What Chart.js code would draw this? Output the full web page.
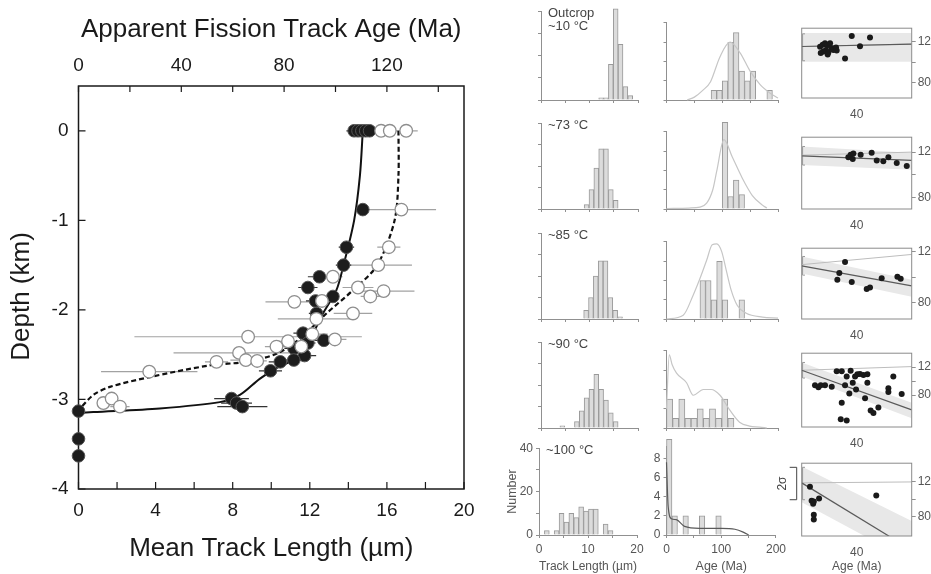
<!DOCTYPE html>
<html>
<head>
<meta charset="utf-8">
<script src="https://cdn.jsdelivr.net/npm/chart.js@4.4.1/dist/chart.umd.min.js"></script>
<style>
html, body { margin: 0; padding: 0; background: #fff; overflow: hidden; width: 931px; height: 574px; }
canvas { position: absolute; }
</style>
</head>
<body>
<script>
// ---- main panel: depth profile ----
var filledLen   = [14.3, 14.5, 14.7, 14.9, 15.1, 14.75, 13.9, 13.75, 12.5, 11.9, 13.2, 12.3, 12.35, 11.65, 12.73, 11.18, 11.73, 11.9, 11.17, 10.47, 9.96, 7.94, 8.2, 8.5, 0, 0, 0];
var filledDepth = [0, 0, 0, 0, 0, -0.88, -1.30, -1.50, -1.63, -1.75, -1.85, -1.90, -2.04, -2.26, -2.34, -2.43, -2.51, -2.37, -2.56, -2.58, -2.68, -2.99, -3.04, -3.08, -3.13, -3.44, -3.63];
var filledErr   = [0.4, 0.3, 0.3, 0.3, 0.3, 0.3, 0.4, 0.4, 0.6, 0.5, 0.3, 0.5, 0.4, 0.5, 0.5, 0.5, 0.6, 0.4, 0.5, 0.6, 0.6, 0.9, 0.8, 1.3, 0, 0, 0];
var openLen   = [15.7, 16.15, 17.0, 16.75, 16.1, 15.55, 13.2, 14.5, 15.14, 15.83, 11.2, 12.63, 14.24, 12.34, 8.8, 13.3, 12.13, 10.87, 10.27, 11.56, 8.33, 7.16, 8.68, 9.27, 3.67, 1.29, 1.72, 2.15];
var openDepth = [0, 0, 0, -0.88, -1.30, -1.50, -1.63, -1.75, -1.85, -1.79, -1.91, -1.90, -2.04, -2.10, -2.30, -2.33, -2.27, -2.35, -2.41, -2.41, -2.48, -2.58, -2.56, -2.57, -2.69, -3.04, -2.99, -3.08];
var openErr   = [0.4, 0.4, 0.6, 1.8, 0.6, 1.75, 0.5, 0.8, 0.5, 1.6, 1.5, 0.6, 1.0, 2.0, 5.9, 0.6, 0.8, 0.5, 0.6, 0.6, 3.4, 0.6, 0.8, 0.5, 2.5, 0.3, 0.3, 0.5];
var fitLenX = [14.75, 14.6, 14.3, 13.75, 13.38, 12.68, 12.43, 11.82, 11.13, 10.27, 9.4, 8.37, 7.33, 4.22, 0.77, 0];
var fitLenY = [0, -0.5, -1.0, -1.5, -1.78, -2.04, -2.15, -2.41, -2.56, -2.65, -2.77, -2.95, -3.03, -3.1, -3.14, -3.15];
var fitAgeX = [16.6, 16.6, 16.4, 15.5, 14.24, 12.86, 11.5, 10.27, 8.7, 6.8, 3.7, 1.63, 0.77, 0];
var fitAgeY = [0, -0.5, -1.0, -1.5, -1.78, -2.04, -2.32, -2.49, -2.58, -2.62, -2.75, -2.86, -2.95, -3.12];
var lengthTicks = [0, 2, 4, 6, 8, 10, 12, 14, 16, 18, 20];
var ageTicks = [0, 20, 40, 60, 80, 100, 120, 140];
var depthTicks = [-4, -3, -2, -1, 0];

// ---- track length histograms (bin centre, number) ----
var lenX10 = [12.4, 13.4, 14.4, 15.4, 16.4, 17.4, 18.4];
var lenN10 = [1, 1, 16, 41, 25, 6, 2];
var lenX73 = [9.4, 10.4, 11.4, 12.4, 13.4, 14.4, 15.4];
var lenN73 = [2, 9, 19, 28, 28, 9, 4];
var lenX85 = [9.3, 10.3, 11.3, 12.3, 13.3, 14.3, 15.3, 16.3];
var lenN85 = [4, 10, 20, 27, 27, 10, 4, 1];
var lenX90 = [4.4, 5.4, 6.4, 7.4, 8.4, 9.4, 10.4, 11.4, 12.4, 13.4, 14.4, 15.4];
var lenN90 = [1, 0, 0, 3, 8, 14, 18, 25, 18, 13, 7, 3];
var lenX100 = [1.6, 2.6, 3.6, 4.6, 5.6, 6.6, 7.6, 8.6, 9.6, 10.6, 11.6, 12.6, 13.6, 14.6];
var lenN100 = [2, 0, 2, 10, 6, 10, 8, 13, 11, 12, 12, 0, 5, 2];

// ---- single grain age histograms and density curves ----
var ageX10 = [85, 95, 105, 115, 125, 135, 145, 155, 165, 175, 185];
var ageN10 = [1, 1, 2, 6, 7, 3, 2, 3, 0, 0, 1];
var pdfX10 = [37, 50, 65, 79, 96, 114, 132, 150, 168, 186, 200];
var pdfY10 = [0, 0.3, 1.0, 1.9, 4.5, 6.0, 4.9, 3.0, 1.6, 0.7, 0.2];
var ageX73 = [105, 115, 125, 135];
var ageN73 = [9, 1.3, 3, 1.5];
var pdfX73 = [0, 40, 60, 72, 83, 90, 103, 118, 136, 154, 172, 180];
var pdfY73 = [0.05, 0.1, 0.2, 0.6, 2, 3.9, 7.2, 5.4, 3.2, 1.4, 0.4, 0.1];
var ageX85 = [65, 75, 85, 95, 105, 115, 125, 135];
var ageN85 = [4, 4, 2, 6, 2, 0, 0, 2];
var pdfX85 = [0, 30, 48, 60, 72, 82, 90, 99, 107, 116, 127, 143, 172, 200];
var pdfY85 = [0, 0.4, 2.5, 4.2, 6.1, 7.7, 7.8, 7.0, 5.1, 3.0, 1.4, 0.6, 0.2, 0.1];
var ageX90 = [5.5, 16.5, 27.5, 38.5, 49.5, 60.5, 71.5, 82.5, 93.5, 104.5, 115.5];
var ageN90 = [3, 1, 3, 1, 1, 2, 1, 2, 1, 3, 1];
var pdfX90 = [0, 5, 10, 18, 36, 48, 66, 80, 96, 113, 131, 149, 167, 180];
var pdfY90 = [2, 7.6, 6.6, 5.7, 4.7, 3.4, 4.0, 4.0, 3.4, 1.9, 0.6, 0.2, 0.1, 0];
var ageX100 = [5, 15, 25, 35, 45, 55, 65, 75, 85, 95];
var ageN100 = [10, 2, 0, 2, 0, 0, 2, 0, 0, 2];
var pdfX100 = [0, 3, 9, 18, 33, 60, 100, 125, 140, 150];
var pdfY100 = [7.6, 3, 1.7, 1.6, 0.9, 0.7, 0.7, 0.6, 0.3, 0];

// ---- radial plots (precision in % of box width, age-equivalent position) ----
var radPrec10 = [16.7, 19.1, 21.2, 23.3, 25.8, 22.1, 19.7, 17.3, 24.2, 27.3, 28.8, 31.8, 31.2, 23.6, 39.4, 45.5, 53, 62.1];
var radAge10  = [114.9, 117, 118.5, 116.4, 118.5, 111.8, 110.3, 108.8, 109.4, 113.4, 111.8, 111.3, 114.3, 107.3, 103.4, 125.5, 115.5, 124];
var radPrec73 = [42.4, 44.5, 46.4, 47, 53.6, 63.6, 68.2, 74.2, 78.8, 86.4, 95.5];
var radAge73  = [115.4, 117.6, 114, 118.7, 117.6, 119.5, 112.7, 111.9, 115.4, 110.5, 107.8];
var radPrec85 = [39.4, 34.2, 32.4, 45.5, 59.1, 62.1, 72.7, 87, 90];
var radAge85  = [112, 103.5, 98.2, 96.5, 90.9, 92.1, 99.4, 100.6, 98.9];
var radPrec90 = [12.1, 15.2, 17.3, 21.2, 27.3, 31.8, 36.4, 40.9, 44.5, 48.5, 50.6, 53, 56.1, 59.7, 59.7, 46.4, 49.4, 39.4, 43.3, 36.4, 57.6, 62.7, 65.2, 69.7, 83.3, 78.8, 78.8, 90.9, 35.5, 40.9];
var radAge90  = [94.1, 91.1, 94.1, 94.1, 92, 114.1, 114.1, 106.7, 114.7, 106.7, 109.7, 110.2, 108.8, 109.7, 97.7, 97.7, 88, 94.1, 82.1, 68.8, 75.5, 57.7, 54.2, 62.2, 106.7, 89.7, 84.4, 81.3, 45.3, 43.5];
var radPrec100 = [7.5, 9, 10.4, 11, 15.8, 11, 11, 67.8];
var radAge100  = [114.5, 98.2, 94.5, 97.1, 100.7, 81.8, 76.4, 104.3];
var edgeX = [0, 100];
var bandHi10 = [128.5, 128.5], bandLo10 = [100.4, 100.4], fit10 = [115.2, 117.6], ref10 = [115.2, 117.6], sig10 = [101.3, 127.6];
var bandHi73 = [124.9, 119.5], bandLo73 = [108.6, 104.5], fit73 = [116.7, 112.7], ref73 = [117.3, 120], sig73 = [108.6, 124.9];
var bandHi85 = [116.4, 98.2], bandLo85 = [103.1, 84.9], fit85 = [109.1, 93.4], ref85 = [110, 118], sig85 = [101.8, 116.4];
var bandHi90 = [126.7, 68.8], bandLo90 = [106.7, 46.7], fit90 = [115.5, 58.7], ref90 = [115.5, 120.8], sig90 = [104.4, 126.7];
var bandHi100 = [138.1, 74.5], bandLo100 = [96.3, 27.6], fit100 = [118.9, 40.8], ref100 = [118.9, 120], sig100 = [99.3, 137];
var radMin = [64.9, 70, 67.4, 34.1, 57.1];
var radMax = [133.1, 133.1, 122.9, 140, 141.8];
var radTicks = [80, 100, 120];
var radLabels = [80, 120];

var tempLabels = [['Outcrop', '~10 °C'], ['~73 °C'], ['~85 °C'], ['~90 °C'], ['~100 °C']];

Chart.defaults.font.family = '"Liberation Sans", Arial, Helvetica, sans-serif';
Chart.defaults.animation = false;
Chart.defaults.responsive = false;
Chart.defaults.plugins.legend.display = false;
Chart.defaults.plugins.tooltip.enabled = false;

function addCanvas(left, top, w, h) {
  var c = document.createElement('canvas');
  c.width = w; c.height = h;
  c.style.left = left + 'px'; c.style.top = top + 'px';
  document.body.appendChild(c);
  return c;
}
function pts(xs, ys) { return xs.map(function (x, i) { return {x: x, y: ys[i]}; }); }
function fixTicks(list) { return function (s) { s.ticks = list.map(function (v) { return {value: v}; }); }; }

// frame with inward ticks, drawn under the points
var frameTicks = {
  id: 'frameTicks',
  beforeDatasetsDraw: function (chart) {
    var ctx = chart.ctx, a = chart.chartArea, s = chart.scales;
    ctx.save();
    ctx.strokeStyle = '#1a1a1a'; ctx.lineWidth = 1.5;
    ctx.strokeRect(a.left, a.top, a.right - a.left, a.bottom - a.top);
    ctx.lineWidth = 1.2;
    ctx.beginPath();
    s.x.ticks.forEach(function (t) { var p = s.x.getPixelForValue(t.value); ctx.moveTo(p, a.bottom); ctx.lineTo(p, a.bottom - 7); });
    s.x2.ticks.forEach(function (t) { var p = s.x2.getPixelForValue(t.value); ctx.moveTo(p, a.top); ctx.lineTo(p, a.top + 6); });
    s.y.ticks.forEach(function (t) { var p = s.y.getPixelForValue(t.value); ctx.moveTo(a.left, p); ctx.lineTo(a.left + 7, p); });
    ctx.stroke();
    // y title, placed a little below the axis centre as in the original
    ctx.translate(22, (a.top + a.bottom) / 2 + 9);
    ctx.rotate(-Math.PI / 2);
    ctx.fillStyle = '#1a1a1a';
    ctx.font = '26px "Liberation Sans", Arial, sans-serif';
    ctx.textAlign = 'center'; ctx.textBaseline = 'middle';
    ctx.fillText('Depth (km)', 0, 0);
    ctx.restore();
  }
};

var errorBars = {
  id: 'errorBars',
  beforeDatasetsDraw: function (chart) {
    var ctx = chart.ctx, x = chart.scales.x, y = chart.scales.y;
    function draw(xs, ys, es, col) {
      ctx.strokeStyle = col; ctx.lineWidth = 1.2;
      ctx.beginPath();
      xs.forEach(function (v, i) {
        if (!es[i]) return;
        var py = y.getPixelForValue(ys[i]);
        ctx.moveTo(x.getPixelForValue(v - es[i]), py);
        ctx.lineTo(x.getPixelForValue(v + es[i]), py);
      });
      ctx.stroke();
    }
    ctx.save();
    draw(openLen, openDepth, openErr, '#a2a2a2');
    draw(filledLen, filledDepth, filledErr, '#333333');
    ctx.restore();
  }
};

new Chart(addCanvas(0, 0, 500, 574), {
  type: 'scatter',
  data: {
    datasets: [
      {label: 'apparent age', data: pts(openLen, openDepth), pointRadius: 6.3, backgroundColor: '#ffffff', borderColor: '#8e8e8e', borderWidth: 1.3, clip: false, order: 0},
      {label: 'mean length', data: pts(filledLen, filledDepth), pointRadius: 6.3, backgroundColor: '#1d1d1d', borderColor: '#555555', borderWidth: 1, clip: false, order: 1},
      {label: 'length model', data: pts(fitLenX, fitLenY), showLine: true, pointRadius: 0, borderColor: '#111', borderWidth: 2, tension: 0.3, clip: false, order: 2},
      {label: 'age model', data: pts(fitAgeX, fitAgeY), showLine: true, pointRadius: 0, borderColor: '#111', borderWidth: 2.2, borderDash: [5, 3], tension: 0.3, clip: false, order: 3}
    ]
  },
  options: {
    layout: {padding: {right: 36}},
    scales: {
      x: {
        type: 'linear', position: 'bottom', min: 0, max: 20,
        afterBuildTicks: fixTicks(lengthTicks),
        afterFit: function (s) { s.height = 85; },
        grid: {display: false, drawTicks: false}, border: {display: false},
        ticks: {autoSkip: false, maxRotation: 0, padding: 10, color: '#1a1a1a', font: {size: 19},
                callback: function (v) { return v % 4 === 0 ? String(v) : ''; }},
        title: {display: true, text: 'Mean Track Length (µm)', color: '#1a1a1a', font: {size: 26}, padding: {top: 0, bottom: 10}}
      },
      x2: {
        type: 'linear', position: 'top', min: 0, max: 150,
        afterBuildTicks: fixTicks(ageTicks),
        afterFit: function (s) { s.height = 86; },
        grid: {display: false, drawTicks: false}, border: {display: false},
        ticks: {autoSkip: false, maxRotation: 0, padding: 9, color: '#1a1a1a', font: {size: 19},
                callback: function (v) { return v % 40 === 0 ? String(v) : ''; }},
        title: {display: true, text: 'Apparent Fission Track Age (Ma)', color: '#1a1a1a', font: {size: 26}, padding: {top: 14, bottom: 0}}
      },
      y: {
        type: 'linear', position: 'left', min: -4, max: 0.5,
        afterBuildTicks: fixTicks(depthTicks),
        afterFit: function (s) { s.width = 78.5; },
        grid: {display: false, drawTicks: false}, border: {display: false},
        ticks: {autoSkip: false, padding: 10, color: '#1a1a1a', font: {size: 19}},
        title: {display: false}
      }
    }
  },
  plugins: [frameTicks, errorBars]
});

// ---- small panels ----
var tagPlugin = {
  id: 'tag',
  afterDraw: function (chart, args, opts) {
    if (!opts.lines || !opts.lines.length) return;
    var ctx = chart.ctx, a = chart.chartArea;
    ctx.save();
    ctx.fillStyle = '#444'; ctx.font = '13px "Liberation Sans", Arial, sans-serif';
    ctx.textBaseline = 'top';
    opts.lines.forEach(function (t, i) { ctx.fillText(t, a.left + 7, a.top - 4 + i * 12.5); });
    ctx.restore();
  }
};

function smallAxis(pos, min, max, list, labels, size, title) {
  return {
    type: 'linear', position: pos, min: min, max: max, offset: false,
    afterBuildTicks: fixTicks(list),
    afterFit: function (s) { if (pos === 'bottom') s.height = size; else s.width = size; },
    grid: {drawOnChartArea: false, offset: false, color: '#909090', tickLength: 3},
    border: {color: '#909090'},
    ticks: {display: labels.length > 0, autoSkip: false, maxRotation: 0, padding: pos === 'bottom' ? 4 : 3, color: '#555', font: {size: 12},
            callback: function (v) { return labels.indexOf(v) >= 0 ? String(v) : ''; }},
    title: title ? {display: true, text: title, color: '#555', font: {size: 12.5},
                    padding: pos === 'bottom' ? {top: 0, bottom: 0} : {top: 7.5, bottom: 0}} : {display: false}
  };
}

function histPanel(o) {
  var padR = 12;
  var w = Math.round(o.right - o.canvasLeft + padR);
  var h = Math.round(o.bottom - o.top + o.padTop + o.xh);
  var cv = addCanvas(o.canvasLeft, o.top - o.padTop, w, h);
  var sets = [{type: 'bar', data: pts(o.bins, o.counts), backgroundColor: '#dcdcdc', borderColor: '#9a9a9a', borderWidth: 1,
               barPercentage: 1, categoryPercentage: 1, clip: false, order: 1}];
  if (o.curveX) {
    sets.unshift({type: 'line', data: pts(o.curveX, o.curveY), borderColor: o.curveColor, borderWidth: 1.2, pointRadius: 0,
                  cubicInterpolationMode: 'monotone', clip: false, order: 0});
  }
  return new Chart(cv, {
    type: 'bar',
    data: {datasets: sets},
    options: {
      layout: {padding: {top: o.padTop, right: w - (o.right - o.canvasLeft)}},
      scales: {
        x: smallAxis('bottom', 0, o.xMax, o.xTicks, o.xLabels, o.xh, o.xTitle),
        y: smallAxis('left', 0, o.yMax, o.yTicks, o.yLabels, o.yw, o.yTitle)
      },
      plugins: {tag: {lines: o.tag || []}}
    },
    plugins: [tagPlugin]
  });
}

var rowBottom = [100, 209, 319, 428, 535];
var lenTop = [11, 123, 233, 342, 446];
var lenBins = [lenX10, lenX73, lenX85, lenX90, lenX100];
var lenCounts = [lenN10, lenN73, lenN85, lenN90, lenN100];
var ageBins = [ageX10, ageX73, ageX85, ageX90, ageX100];
var ageCounts = [ageN10, ageN73, ageN85, ageN90, ageN100];
var pdfX = [pdfX10, pdfX73, pdfX85, pdfX90, pdfX100];
var pdfY = [pdfY10, pdfY73, pdfY85, pdfY90, pdfY100];

for (var r = 0; r < 5; r++) {
  var last = r === 4;
  histPanel({
    canvasLeft: last ? 498 : 525, right: last ? 637 : 638,
    top: lenTop[r], bottom: rowBottom[r], padTop: 8,
    yw: last ? 41 : 16, xh: last ? 39 : 8,
    xMax: 20, xTicks: [0, 5, 10, 15, 20], xLabels: last ? [0, 10, 20] : [],
    yMax: 40, yTicks: [0, 10, 20, 30, 40], yLabels: last ? [0, 20, 40] : [],
    bins: lenBins[r], counts: lenCounts[r],
    xTitle: last ? 'Track Length (µm)' : null, yTitle: last ? 'Number' : null,
    tag: tempLabels[r]
  });
  var yMax = last ? 9.3 : 8.1;
  histPanel({
    canvasLeft: 650, right: 778,
    top: rowBottom[r] - yMax * 9.6, bottom: rowBottom[r], padTop: 14,
    yw: 16.5, xh: last ? 39 : 8,
    xMax: 200, xTicks: [0, 50, 100, 150, 200], xLabels: last ? [0, 100, 200] : [],
    yMax: yMax, yTicks: [0, 2, 4, 6, 8], yLabels: last ? [0, 2, 4, 6, 8] : [],
    bins: ageBins[r], counts: ageCounts[r],
    curveX: pdfX[r], curveY: pdfY[r], curveColor: last ? '#5a5a5a' : '#c6c6c6',
    xTitle: last ? 'Age (Ma)' : null, yTitle: null
  });
}

// ---- radial plots ----
var boxPlugin = {
  id: 'box',
  afterDraw: function (chart, args, opts) {
    var ctx = chart.ctx, a = chart.chartArea, y = chart.scales.y;
    ctx.save();
    ctx.strokeStyle = '#8a8a8a'; ctx.lineWidth = 1;
    ctx.strokeRect(a.left, a.top, a.right - a.left, a.bottom - a.top);
    if (opts.sigma) {
      var p0 = y.getPixelForValue(opts.sigma[0]), p1 = y.getPixelForValue(opts.sigma[1]);
      ctx.strokeStyle = '#444';
      ctx.beginPath();
      ctx.moveTo(a.left - 12, p1); ctx.lineTo(a.left - 5, p1); ctx.lineTo(a.left - 5, p0); ctx.lineTo(a.left - 12, p0);
      ctx.stroke();
      ctx.translate(a.left - 19, (p0 + p1) / 2);
      ctx.rotate(-Math.PI / 2);
      ctx.fillStyle = '#444'; ctx.font = '12px "Liberation Sans", Arial, sans-serif';
      ctx.textAlign = 'center'; ctx.textBaseline = 'middle';
      ctx.fillText('2σ', 0, 0);
    }
    ctx.restore();
  }
};

var radBoxTop = [23.3, 131.7, 242.7, 348.3, 458.3];
var radBoxBottom = [98.3, 209, 319, 427.7, 536];
var radPrec = [radPrec10, radPrec73, radPrec85, radPrec90, radPrec100];
var radAge = [radAge10, radAge73, radAge85, radAge90, radAge100];
var bandHi = [bandHi10, bandHi73, bandHi85, bandHi90, bandHi100];
var bandLo = [bandLo10, bandLo73, bandLo85, bandLo90, bandLo100];
var fitLine = [fit10, fit73, fit85, fit90, fit100];
var refLine = [ref10, ref73, ref85, ref90, ref100];
var sigma = [sig10, sig73, sig85, sig90, sig100];

function radialPanel(r) {
  var last = r === 4;
  var cvLeft = 770, cw = 165, boxLeft = 801.7, boxRight = 911.7;
  var xh = last ? 38 : 24;
  var top = radBoxTop[r], bottom = radBoxBottom[r];
  var h = Math.round(bottom - top + 4 + xh);
  var s = sigma[r];
  new Chart(addCanvas(cvLeft, top - 4, cw, h), {
    type: 'scatter',
    data: {
      datasets: [
        {data: pts(radPrec[r], radAge[r]), pointRadius: 3, backgroundColor: '#1a1a1a', borderWidth: 0, order: 0},
        {data: pts(edgeX, fitLine[r]), showLine: true, pointRadius: 0, borderColor: '#5a5a5a', borderWidth: 1.2, order: 1},
        {data: pts(edgeX, refLine[r]), showLine: true, pointRadius: 0, borderColor: '#bdbdbd', borderWidth: 1, order: 2},
        {data: pts([3, 0.8, 0.8, 3], [s[0], s[0], s[1], s[1]]), showLine: true, pointRadius: 0, borderColor: '#9a9a9a', borderWidth: 1, order: 3},
        {data: pts(edgeX, bandHi[r]), showLine: true, pointRadius: 0, borderWidth: 0, fill: '+1', backgroundColor: '#e8e8e8', order: 4},
        {data: pts(edgeX, bandLo[r]), showLine: true, pointRadius: 0, borderWidth: 0, order: 5}
      ]
    },
    options: {
      layout: {padding: {left: boxLeft - cvLeft, top: 4}},
      scales: {
        x: {
          type: 'linear', min: 0, max: 100,
          afterFit: function (sc) { sc.height = xh; },
          ticks: {display: false}, grid: {display: false, drawTicks: false}, border: {display: false},
          title: {display: true, text: last ? ['40', 'Age (Ma)'] : '40', color: '#555', font: {size: 12}, padding: {top: 0, bottom: 0}}
        },
        y: {
          type: 'linear', position: 'right', min: radMin[r], max: radMax[r],
          afterBuildTicks: fixTicks(radTicks),
          afterFit: function (sc) { sc.width = cvLeft + cw - boxRight; },
          grid: {drawOnChartArea: false, color: '#909090', tickLength: 4}, border: {display: false},
          ticks: {autoSkip: false, padding: 2, color: '#555', font: {size: 12},
                  callback: function (v) { return radLabels.indexOf(v) >= 0 ? String(v) : ''; }}
        }
      },
      plugins: {box: {sigma: last ? s : null}}
    },
    plugins: [boxPlugin]
  });
}
for (var k = 0; k < 5; k++) radialPanel(k);
</script>
</body>
</html>
